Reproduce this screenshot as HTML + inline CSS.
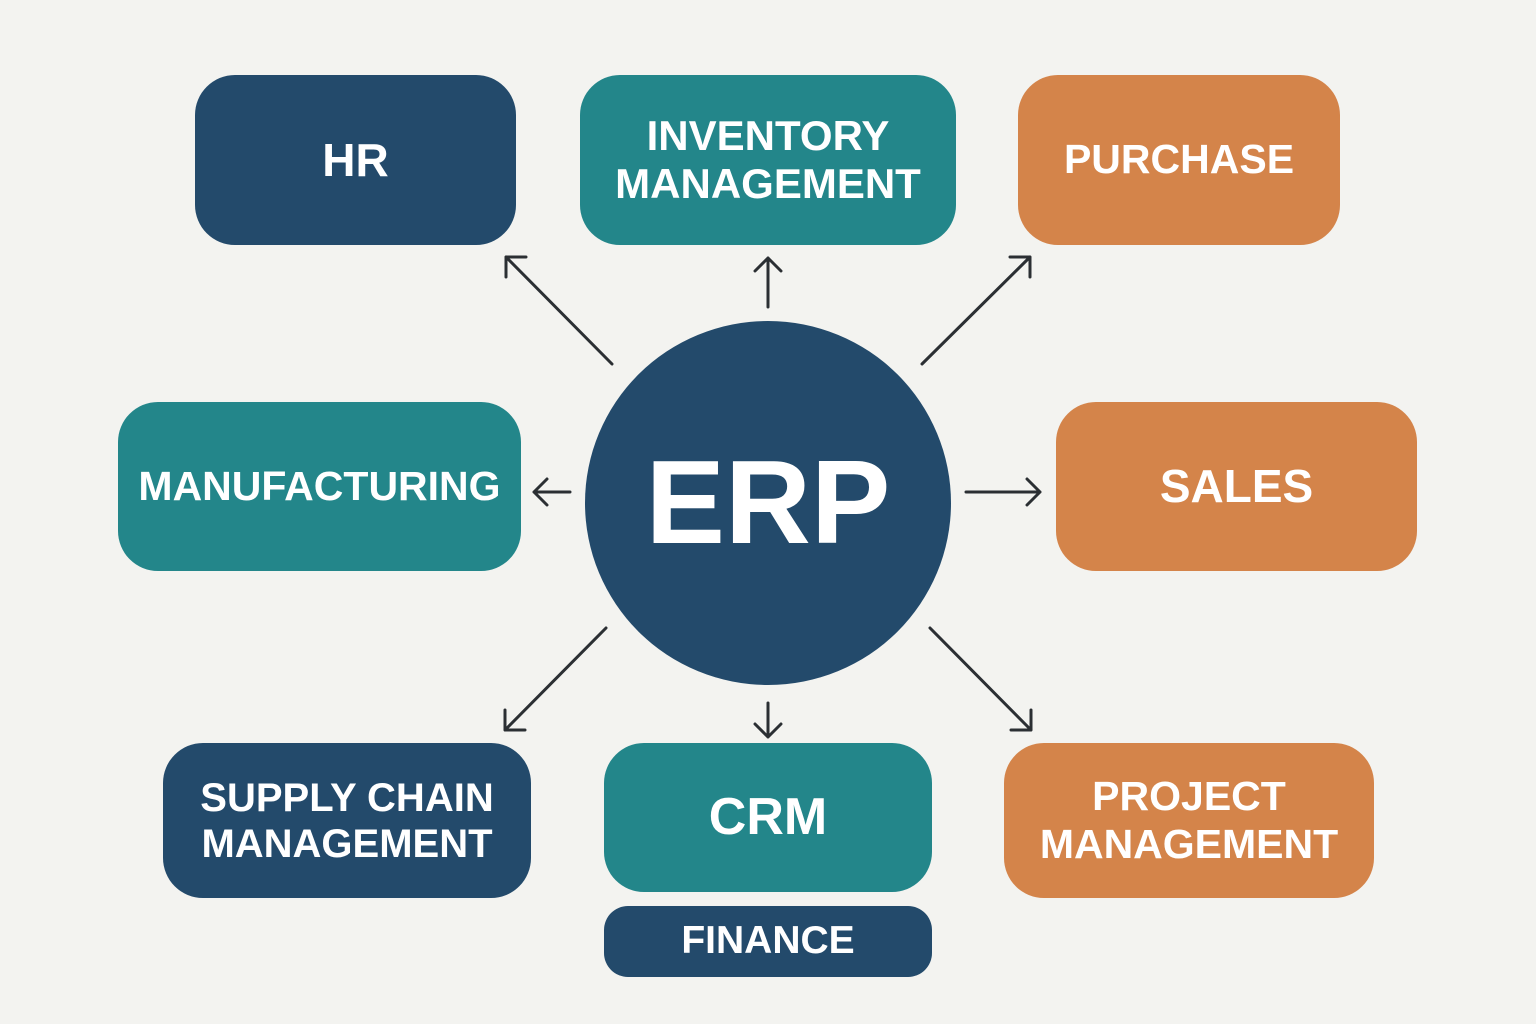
<!DOCTYPE html>
<html><head><meta charset="utf-8"><style>
html,body{margin:0;padding:0;width:1536px;height:1024px;overflow:hidden;background:#f3f3f0}
.b{position:absolute;display:flex;align-items:center;justify-content:center;text-align:center;color:#fff;font-family:"Liberation Sans",sans-serif;font-weight:bold;border-radius:40px;line-height:1.15}
.n{background:#234a6b}.t{background:#23868a}.o{background:#d4844a}
</style></head><body>
<div class="b n" style="left:195px;top:75px;width:321px;height:170px;font-size:46px">HR</div>
<div class="b t" style="left:580px;top:75px;width:376px;height:170px;font-size:42px">INVENTORY<br>MANAGEMENT</div>
<div class="b o" style="left:1018px;top:75px;width:322px;height:170px;font-size:41px">PURCHASE</div>
<div class="b t" style="left:118px;top:402px;width:403px;height:169px;font-size:41px">MANUFACTURING</div>
<div class="b o" style="left:1056px;top:402px;width:361px;height:169px;font-size:46px">SALES</div>
<div class="b n" style="left:163px;top:743px;width:368px;height:155px;font-size:40px">SUPPLY CHAIN<br>MANAGEMENT</div>
<div class="b t" style="left:604px;top:743px;width:328px;height:149px;font-size:52px">CRM</div>
<div class="b n" style="left:604px;top:906px;width:328px;height:71px;font-size:39px;border-radius:24px">FINANCE</div>
<div class="b o" style="left:1004px;top:743px;width:370px;height:155px;font-size:41px">PROJECT<br>MANAGEMENT</div>
<div class="b n" style="left:585px;top:321px;width:366px;height:364px;border-radius:50%;font-size:119px">ERP</div>
<svg width="1536" height="1024" style="position:absolute;left:0;top:0" fill="none" stroke="#2b2f33" stroke-width="3" stroke-linecap="round" stroke-linejoin="round">
<path d="M612 364L506 257M506 277V257H526"/>
<path d="M768 307V258M755 271L768 258L781 271"/>
<path d="M922 364L1030 257M1010 257H1030V277"/>
<path d="M570 492H534M547 479L534 492L547 505"/>
<path d="M966 492H1040M1027 479L1040 492L1027 505"/>
<path d="M606 628L505 730M505 710V730H525"/>
<path d="M768 703V737M755 724L768 737L781 724"/>
<path d="M930 628L1031 730M1011 730H1031V710"/>
</svg>
</body></html>
